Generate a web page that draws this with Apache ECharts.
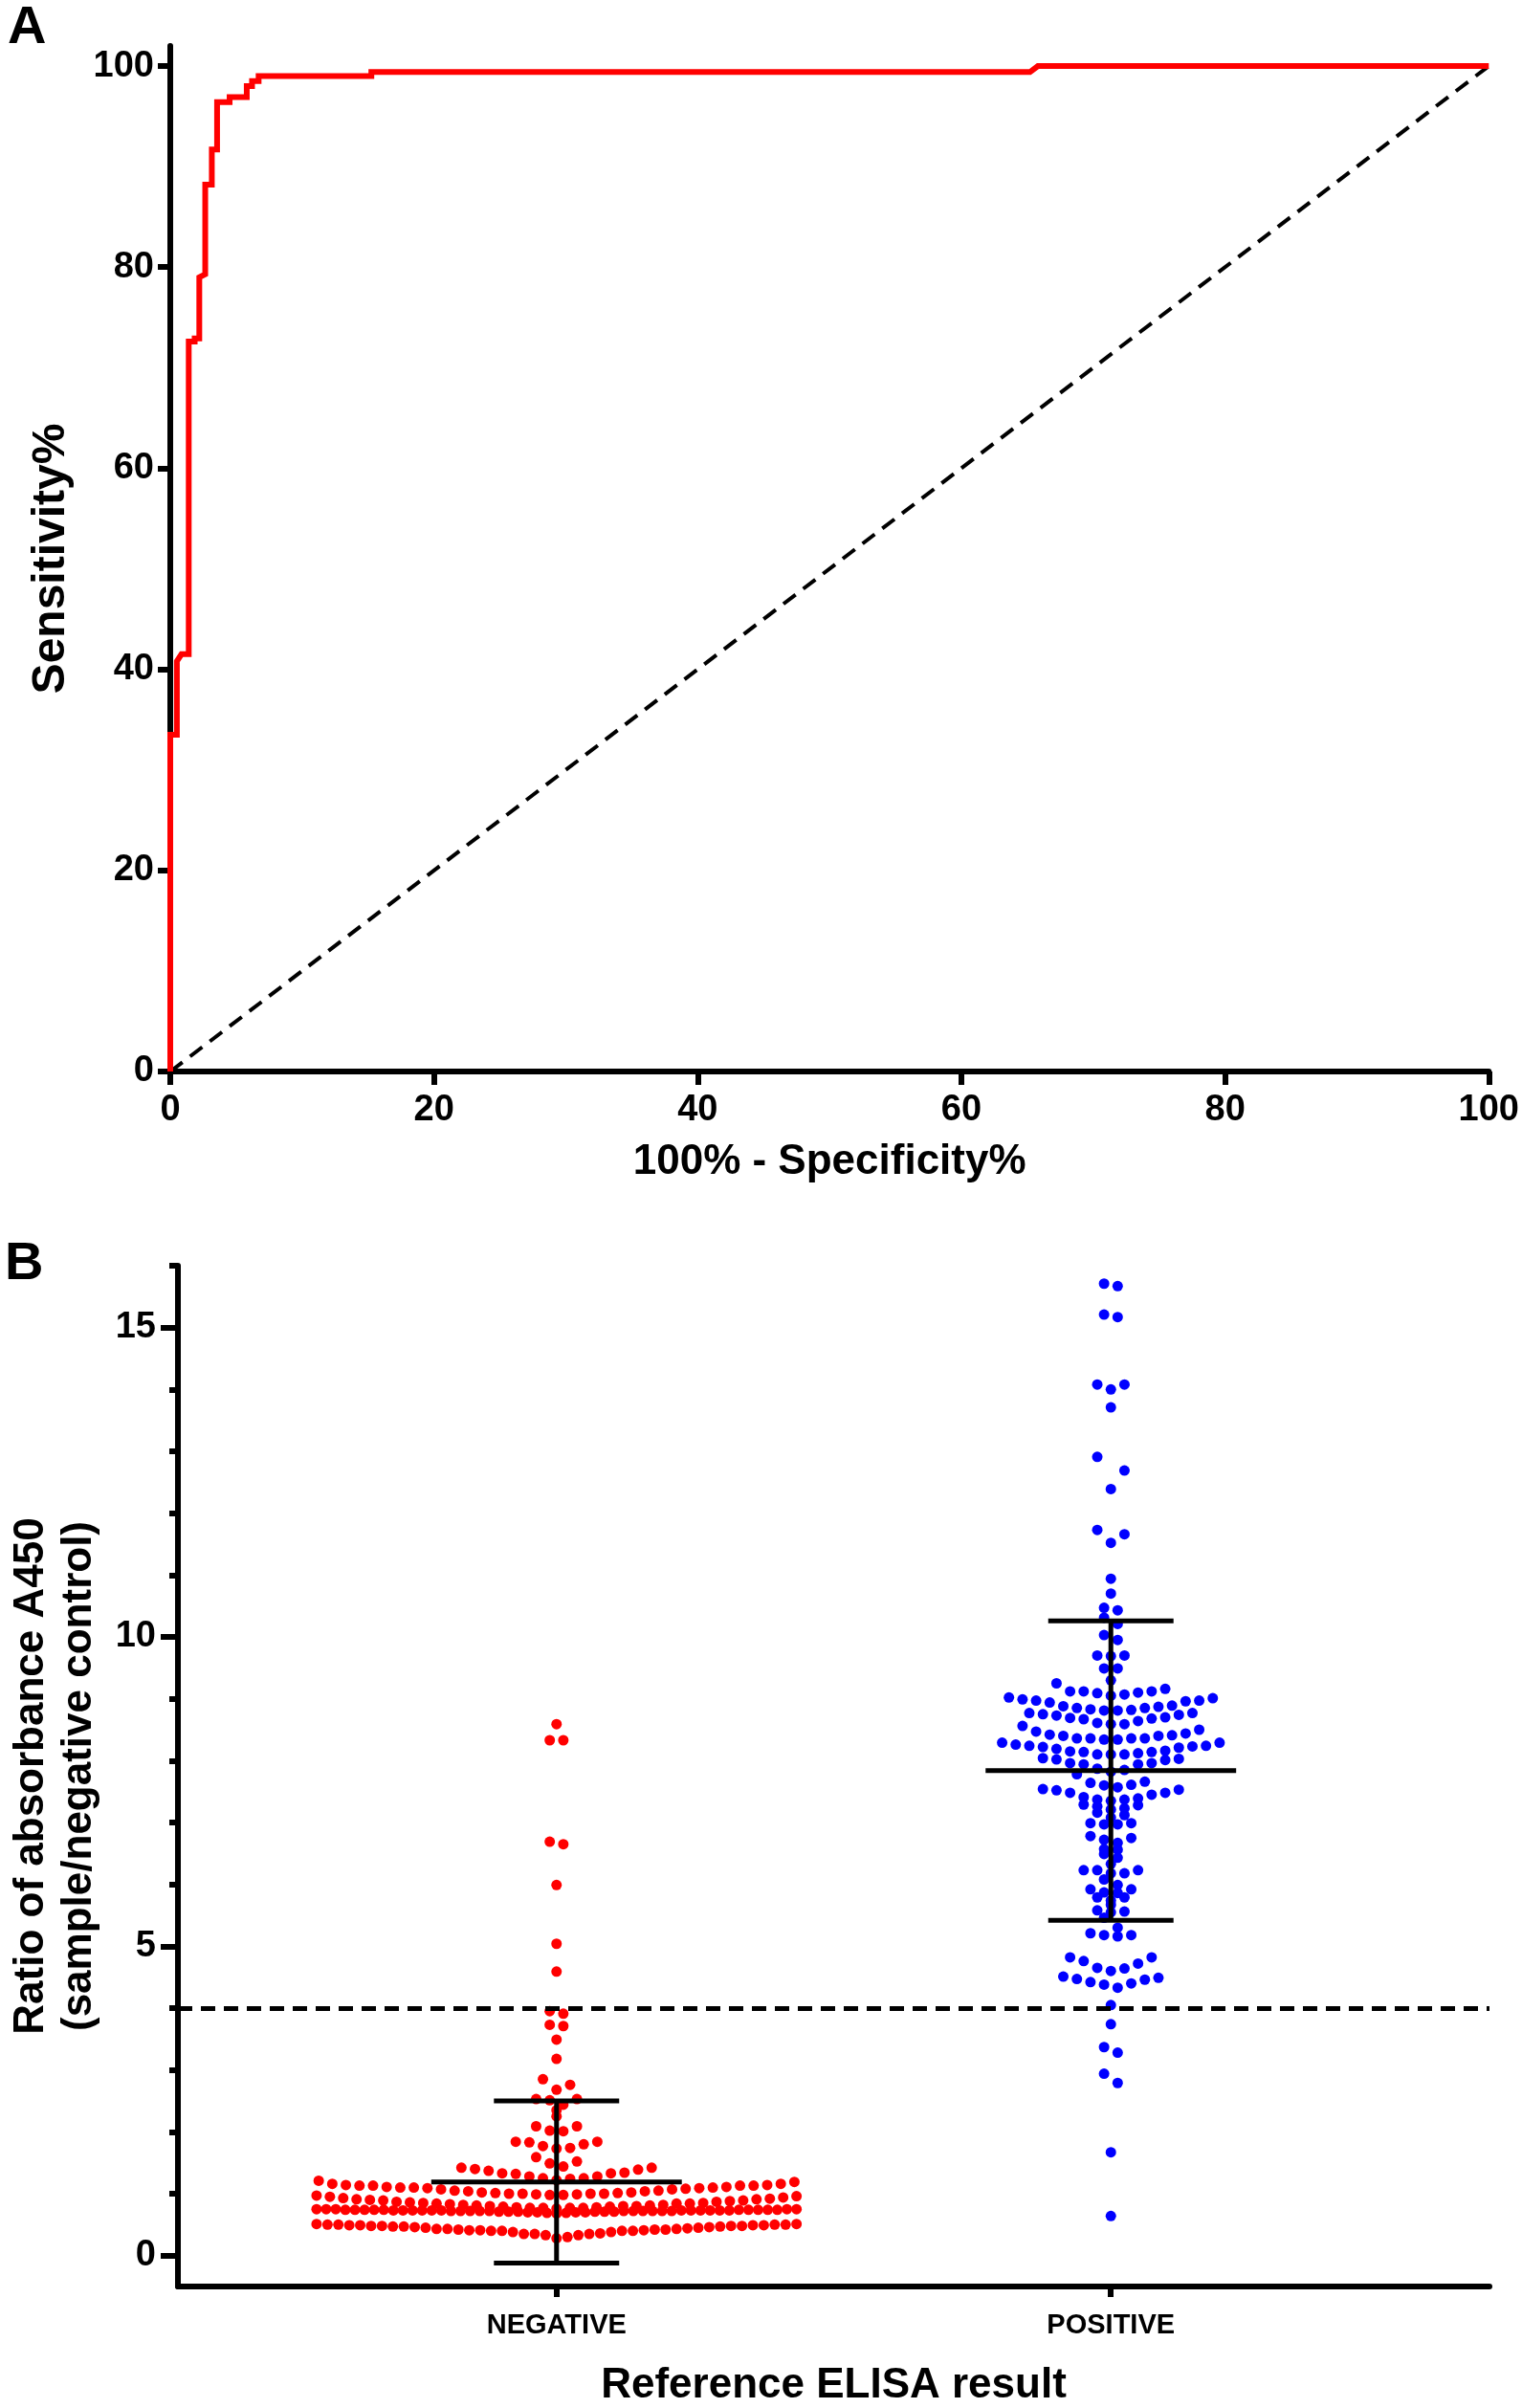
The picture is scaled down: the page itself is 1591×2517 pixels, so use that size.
<!doctype html>
<html>
<head>
    <meta charset="UTF-8" />
    <title>ROC and scatter</title>
    <script src="https://cdn.jsdelivr.net/npm/echarts@6/dist/echarts.min.js"></script>
    <style>
        body { margin: 0; background: #fff; }
        #chart { width: 1591px; height: 2517px; }
    </style>
</head>
<body>
    <div id="chart"></div>
    <script>
        // ---- panel A: ROC curve (100% - specificity vs sensitivity) ----
        const rocFpr = [0, 0, 0.5, 0.5, 0.85, 1.4, 1.4, 1.85, 1.85, 2.2, 2.2, 2.65, 2.65, 3.15, 3.15, 3.55, 3.55, 4.5, 4.5, 5.8, 5.8, 6.2, 6.2, 6.7, 6.7, 15.25, 15.25, 65.2, 65.8, 100];
        const rocTpr = [0, 33.5, 33.5, 40.8, 41.5, 41.5, 72.6, 72.6, 72.9, 72.9, 79.0, 79.3, 88.2, 88.2, 91.7, 91.7, 96.4, 96.4, 96.9, 96.9, 98.0, 98.0, 98.5, 98.5, 99.0, 99.0, 99.4, 99.4, 100, 100];
        const chanceX = [0, 100];
        const chanceY = [0, 100];
        const rocTicks = [0, 20, 40, 60, 80, 100];

        // ---- panel B: ratio A450 by reference ELISA result ----
        const groups = ['NEGATIVE', 'POSITIVE'];
        const groupMean = [1.19, 7.84];
        const groupSD = [1.31, 2.42];
        const cutoff = 4;
        const ratioTicks = [0, 5, 10, 15];
        const ratioMinorTicks = [1, 2, 3, 4, 6, 7, 8, 9, 11, 12, 13, 14, 16];

        // values grouped in the horizontal rows of the dot plot
        const negativeRows = [
            [0.28, 0.30, 0.33, 0.33, 0.35, 0.35, 0.35, 0.36, 0.38, 0.38, 0.40, 0.40, 0.40, 0.40, 0.41, 0.41, 0.41, 0.42, 0.42, 0.42, 0.43, 0.43, 0.43, 0.44, 0.45, 0.45, 0.46, 0.46, 0.47, 0.47, 0.47, 0.48, 0.48, 0.48, 0.48, 0.49, 0.49, 0.49, 0.49, 0.50, 0.50, 0.50, 0.50, 0.51, 0.51],
            [0.68, 0.69, 0.69, 0.70, 0.70, 0.70, 0.70, 0.71, 0.71, 0.71, 0.71, 0.71, 0.71, 0.72, 0.72, 0.72, 0.72, 0.72, 0.72, 0.72, 0.72, 0.72, 0.72, 0.72, 0.73, 0.73, 0.73, 0.73, 0.73, 0.73, 0.73, 0.73, 0.73, 0.73, 0.73, 0.73, 0.74, 0.74, 0.74, 0.74, 0.74, 0.74, 0.74, 0.74, 0.74, 0.74, 0.75, 0.75, 0.75, 0.75, 0.75],
            [0.76, 0.77, 0.77, 0.77, 0.77, 0.78, 0.78, 0.79, 0.79, 0.80, 0.80, 0.80, 0.81, 0.81, 0.82, 0.82, 0.83, 0.84, 0.84, 0.84, 0.85, 0.85, 0.86, 0.87, 0.87, 0.88, 0.89, 0.89, 0.90, 0.91, 0.91, 0.92, 0.93, 0.94, 0.95, 0.96, 0.97],
            [0.98, 0.98, 0.99, 0.99, 1.00, 1.00, 1.00, 1.00, 1.01, 1.01, 1.02, 1.02, 1.04, 1.04, 1.05, 1.05, 1.07, 1.07, 1.08, 1.09, 1.09, 1.10, 1.10, 1.10, 1.11, 1.11, 1.13, 1.13, 1.13, 1.13, 1.14, 1.14, 1.16, 1.16, 1.19, 1.21],
            [1.22, 1.24, 1.25, 1.25, 1.28, 1.28, 1.32, 1.33, 1.33, 1.34, 1.37, 1.39, 1.40, 1.42, 1.42],
            [1.44, 1.49, 1.52, 1.59],
            [1.73, 1.74, 1.77, 1.80, 1.83, 1.84, 1.84],
            [2.01, 2.02, 2.09, 2.09],
            [2.25], [2.35],
            [2.44, 2.51, 2.53, 2.53],
            [2.68, 2.76, 2.85],
            [3.18], [3.49], [3.71, 3.73], [3.91, 3.95],
            [4.59], [5.04], [5.99], [6.65, 6.69], [8.33, 8.33], [8.59]
        ];
        const positiveRows = [
            [0.64], [1.67], [2.79, 2.94], [3.28, 3.37], [3.74], [4.05],
            [4.33, 4.38, 4.40, 4.42, 4.46, 4.47, 4.49, 4.51],
            [4.60, 4.64, 4.65, 4.72, 4.76, 4.82, 4.82],
            [5.16, 5.18, 5.18, 5.21],
            [5.30, 5.46],
            [5.55, 5.56, 5.58],
            [5.67],
            [5.74, 5.79, 5.79],
            [5.86, 5.87, 5.92, 5.92],
            [5.99, 6.08],
            [6.18, 6.18, 6.23, 6.23, 6.23],
            [6.33],
            [6.43, 6.49],
            [6.56, 6.57],
            [6.67, 6.72, 6.75, 6.78],
            [6.97, 6.97, 6.99, 6.99],
            [7.08, 7.12, 7.16],
            [7.21, 7.23, 7.26, 7.28, 7.29],
            [7.35, 7.37, 7.37, 7.39, 7.41, 7.45, 7.48, 7.48, 7.52, 7.53, 7.54],
            [7.57, 7.60, 7.61, 7.64, 7.66, 7.78],
            [7.82, 7.85, 7.87, 7.94, 7.94, 7.96, 7.96, 8.01, 8.02, 8.03, 8.04],
            [8.10, 8.10, 8.10, 8.12, 8.14, 8.14, 8.15, 8.16, 8.19, 8.21, 8.22, 8.23, 8.24, 8.24, 8.26, 8.29, 8.29],
            [8.34, 8.34, 8.36, 8.36, 8.36, 8.36, 8.40, 8.40, 8.41, 8.42, 8.44, 8.47, 8.50, 8.56],
            [8.59, 8.59, 8.61, 8.64, 8.67, 8.68, 8.69, 8.70, 8.73, 8.74, 8.75, 8.77, 8.77],
            [8.81, 8.81, 8.82, 8.83, 8.85, 8.85, 8.87, 8.88, 8.89, 8.94, 8.96, 8.97, 8.97, 8.99, 9.01, 9.02],
            [9.05, 9.07, 9.09, 9.10, 9.12, 9.12, 9.12, 9.16, 9.25],
            [9.30], [9.49, 9.49], [9.69, 9.70, 9.70], [9.95, 10.03],
            [10.21, 10.31], [10.43, 10.47], [10.70], [10.94],
            [11.52, 11.66, 11.73], [12.39, 12.69, 12.91], [13.71],
            [14.00, 14.08, 14.08], [15.17, 15.21], [15.67, 15.71]
        ];

        // layout (pixels)
        const gridA = { left: 178, top: 48, width: 1380, height: 1072 };
        const gridB = { left: 177, top: 1323, width: 1380, height: 1071 };
        const bxMin = -0.683, bxMax = 1.683;
        const DOT_STEP_PX = 14.3;
        const MAX_ROW_PX = 505;
        const FONT = 'Liberation Sans, Arial, sans-serif';

        // spread each row sideways from the group centre, lowest value in the middle
        function dotPlot(rows, centre) {
            const xPerPx = (bxMax - bxMin) / gridB.width;
            const pts = [];
            rows.forEach(function (row) {
                const vals = row.slice().sort(function (a, b) { return a - b; });
                const n = vals.length;
                const stepPx = n > 1 ? Math.min(DOT_STEP_PX, MAX_ROW_PX / (n - 1)) : 0;
                vals.forEach(function (v, i) {
                    let k;
                    if (n % 2) {
                        k = i === 0 ? 0 : (i % 2 ? (i + 1) / 2 : -i / 2);
                    } else {
                        k = (i % 2 ? -1 : 1) * (Math.floor(i / 2) + 0.5);
                    }
                    pts.push([centre + k * stepPx * xPerPx, v]);
                });
            });
            return pts;
        }

        const negPoints = dotPlot(negativeRows, 0);
        const posPoints = dotPlot(positiveRows, 1);
        const barData = groups.map(function (g, i) { return [i, groupMean[i], groupSD[i]]; });

        const tickLabel = { color: '#000', fontWeight: 'bold', fontFamily: FONT, fontSize: 38 };
        const nameStyle = { color: '#000', fontWeight: 'bold', fontFamily: FONT, fontSize: 44 };
        const AXIS_W = 6;

        const chart = echarts.init(document.getElementById('chart'), null, { renderer: 'canvas' });

        const option = {
            backgroundColor: '#fff',
            animation: false,
            graphic: [
                { type: 'text', left: 8, top: 2, style: { text: 'A', font: 'bold 56px ' + FONT, fill: '#000' } },
                { type: 'text', left: 5, top: 1294, style: { text: 'B', font: 'bold 56px ' + FONT, fill: '#000' } }
            ],
            grid: [gridA, gridB],
            xAxis: [
                {
                    gridIndex: 0, type: 'value', min: 0, max: 100, interval: 20,
                    name: '100% - Specificity%', nameLocation: 'middle', nameGap: 73, nameTextStyle: nameStyle,
                    axisLine: { onZero: false, lineStyle: { color: '#000', width: AXIS_W } },
                    axisTick: { length: 14, lineStyle: { color: '#000', width: AXIS_W } },
                    axisLabel: Object.assign({ margin: 22 }, tickLabel),
                    splitLine: { show: false }
                },
                {
                    gridIndex: 1, type: 'value', min: bxMin, max: bxMax,
                    name: 'Reference ELISA result', nameLocation: 'middle', nameGap: 82, nameTextStyle: nameStyle,
                    axisLine: { onZero: false, lineStyle: { color: '#000', width: AXIS_W } },
                    axisTick: { customValues: [0, 1], length: 11, lineStyle: { color: '#000', width: AXIS_W } },
                    axisLabel: Object.assign({}, tickLabel, {
                        customValues: [0, 1], fontSize: 29, margin: 26,
                        formatter: function (v) { return groups[Math.round(v)]; }
                    }),
                    splitLine: { show: false }
                }
            ],
            yAxis: [
                {
                    gridIndex: 0, type: 'value', min: 0, max: 102,
                    name: 'Sensitivity%', nameLocation: 'middle', nameGap: 100,
                    nameTextStyle: Object.assign({}, nameStyle, { fontSize: 48 }),
                    axisLine: { onZero: false, lineStyle: { color: '#000', width: AXIS_W } },
                    axisTick: { customValues: rocTicks, length: 13, lineStyle: { color: '#000', width: AXIS_W } },
                    axisLabel: Object.assign({ customValues: rocTicks, margin: 17 }, tickLabel),
                    splitLine: { show: false }
                },
                {
                    gridIndex: 1, type: 'value', min: -0.5, max: 16,
                    name: 'Ratio of absorbance A450\n(sample/negative control)', nameLocation: 'middle', nameGap: 78,
                    nameTextStyle: Object.assign({ lineHeight: 50 }, nameStyle),
                    axisLine: { onZero: false, lineStyle: { color: '#000', width: AXIS_W } },
                    axisTick: { customValues: ratioTicks, length: 18, lineStyle: { color: '#000', width: AXIS_W } },
                    axisLabel: Object.assign({ customValues: ratioTicks, margin: 23 }, tickLabel),
                    splitLine: { show: false }
                },
                {
                    // minor ticks for panel B
                    gridIndex: 1, type: 'value', min: -0.5, max: 16, position: 'left',
                    axisLine: { show: false, onZero: false },
                    axisTick: { customValues: ratioMinorTicks, length: 9, lineStyle: { color: '#000', width: AXIS_W } },
                    axisLabel: { show: false },
                    splitLine: { show: false }
                }
            ],
            series: [
                {
                    type: 'line', xAxisIndex: 0, yAxisIndex: 0,
                    data: chanceX.map(function (x, i) { return [x, chanceY[i]]; }),
                    showSymbol: false, lineStyle: { color: '#000', width: 4, type: [16, 10] }, z: 3
                },
                {
                    type: 'line', xAxisIndex: 0, yAxisIndex: 0,
                    data: rocFpr.map(function (x, i) { return [x, rocTpr[i]]; }),
                    showSymbol: false, lineStyle: { color: '#ff0000', width: 6, join: 'miter' }, z: 4
                },
                {
                    type: 'scatter', xAxisIndex: 1, yAxisIndex: 1, data: negPoints,
                    symbolSize: 11, itemStyle: { color: '#ff0000', opacity: 1 }, z: 3
                },
                {
                    type: 'scatter', xAxisIndex: 1, yAxisIndex: 1, data: posPoints,
                    symbolSize: 11, itemStyle: { color: '#0000ff', opacity: 1 }, z: 3,
                    markLine: {
                        silent: true, symbol: ['none', 'none'], label: { show: false },
                        lineStyle: { color: '#000', width: 5, type: [15, 9] },
                        data: [{ yAxis: cutoff }]
                    }
                },
                {
                    // mean and SD bars
                    type: 'custom', xAxisIndex: 1, yAxisIndex: 1, data: barData, z: 5,
                    renderItem: function (params, api) {
                        const c = api.value(0), m = api.value(1), s = api.value(2);
                        const meanHalf = 0.226, capHalf = 0.113;
                        const style = { stroke: '#000', lineWidth: 5 };
                        function seg(x1, y1, x2, y2) {
                            const a = api.coord([x1, y1]), b = api.coord([x2, y2]);
                            return { type: 'line', shape: { x1: a[0], y1: a[1], x2: b[0], y2: b[1] }, style: style };
                        }
                        return {
                            type: 'group',
                            children: [
                                seg(c, m - s, c, m + s),
                                seg(c - meanHalf, m, c + meanHalf, m),
                                seg(c - capHalf, m + s, c + capHalf, m + s),
                                seg(c - capHalf, m - s, c + capHalf, m - s)
                            ]
                        };
                    }
                }
            ]
        };

        chart.setOption(option);
        window.onresize = function () { chart.resize(); };
    </script>
</body>
</html>
